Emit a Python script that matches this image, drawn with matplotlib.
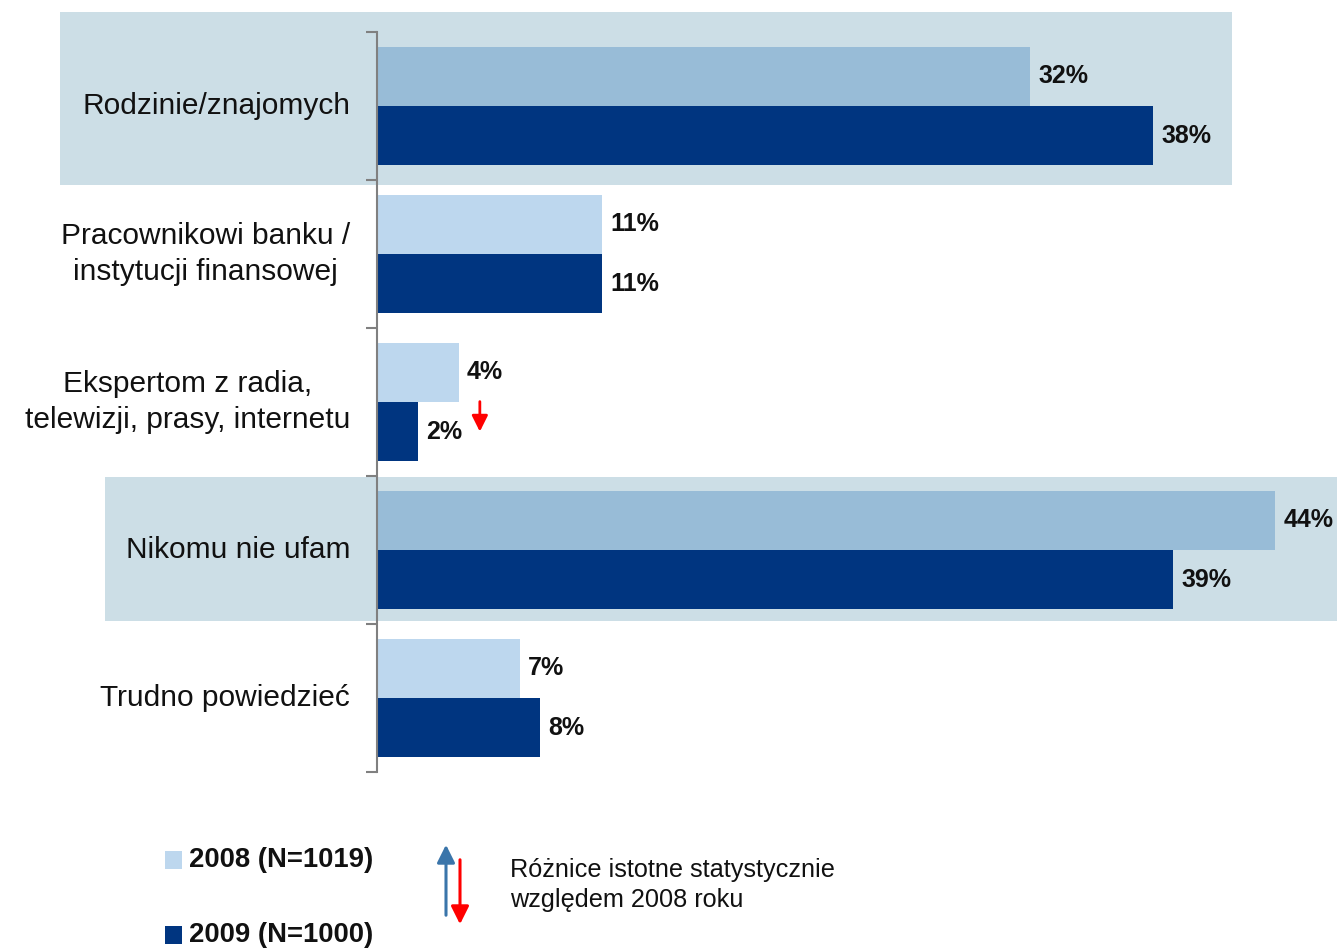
import matplotlib
matplotlib.use("Agg")
import matplotlib.pyplot as plt
import matplotlib.transforms as mtransforms
from matplotlib.patches import Rectangle, FancyArrowPatch
import numpy as np

# data
categories = ["Rodzinie/znajomych",
              "Pracownikowi banku /\ninstytucji finansowej",
              "Ekspertom z radia,\ntelewizji, prasy, internetu",
              "Nikomu nie ufam",
              "Trudno powiedzieć"]
vals_2008 = [32, 11, 4, 44, 7]
vals_2009 = [38, 11, 2, 39, 8]
highlighted = [0, 3]          # rows with grey-blue background box
sig_down = [2]                # 2009 significantly lower than 2008
legend_labels = ["2008 (N=1019)", "2009 (N=1000)"]
note_text = "Różnice istotne statystycznie\nwzględem 2008 roku"

c2008 = "#BDD7EE"
c2008_hl = "#98BCD7"
c2009 = "#003580"
c_box = "#CCDEE6"

plt.rcParams['font.family'] = ['Liberation Sans', 'DejaVu Sans']

W, H = 1337, 948
fig = plt.figure(figsize=(W / 100, H / 100), dpi=100)
fig.patch.set_facecolor("white")

def fx(px):
    return px / W

def fy(py):
    return 1 - py / H

# axes area: left spine x=377, from y=32 to y=772
ax = fig.add_axes([fx(377), fy(772), fx(1337) - fx(377), fy(32) - fy(772)])
ax.set_facecolor("none")

y = np.arange(len(categories))
bh = 0.4
cols08 = [c2008_hl if i in highlighted else c2008 for i in range(len(categories))]
ax.barh(y - bh / 2, vals_2008, height=bh, color=cols08, zorder=2)
ax.barh(y + bh / 2, vals_2009, height=bh, color=c2009, zorder=2)

ax.set_xlim(0, 960 / 20.42)
ax.set_ylim(len(categories) - 0.5, -0.5)

# value labels
for i in range(len(categories)):
    for v, yy in ((vals_2008[i], y[i] - bh / 2), (vals_2009[i], y[i] + bh / 2)):
        ax.annotate(f"{v}%", xy=(v, yy), xytext=(6, 0), textcoords="offset points",
                    ha="left", va="center", fontsize=18, fontweight="bold",
                    color="#111111", zorder=3)

# category labels
lab_tr = mtransforms.blended_transform_factory(ax.transAxes, ax.transData)
for i, c in enumerate(categories):
    ax.text(-0.028, y[i], c, transform=lab_tr, ha="right", va="center",
            multialignment="center", fontsize=21.5, color="#111111", linespacing=1.35)

# significance arrows next to bars
for i in sig_down:
    tr = mtransforms.offset_copy(ax.transData, fig=fig, x=62, y=0, units="dots")
    ax.annotate("", xy=(vals_2009[i], y[i] + bh / 2), xycoords=tr,
                xytext=(0, 30), textcoords="offset pixels",
                arrowprops=dict(arrowstyle="-|>", color="red", lw=2,
                                mutation_scale=24, shrinkA=0, shrinkB=0))

# axis styling
for s in ["top", "right", "bottom"]:
    ax.spines[s].set_visible(False)
ax.spines["left"].set_color("#808080")
ax.spines["left"].set_linewidth(1.5)
ax.set_xticks([])
ax.set_yticks(np.arange(-0.5, len(categories), 1.0))
ax.set_yticklabels([])
ax.tick_params(axis="y", direction="out", length=8, width=1.5, color="#808080")

# highlight boxes behind rows
boxes = {0: (60, 12, 1232, 185), 3: (105, 477, 1337, 621)}
for i in highlighted:
    x0, y0, x1, y1 = boxes[i]
    fig.add_artist(Rectangle((fx(x0), fy(y1)), fx(x1) - fx(x0), fy(y0) - fy(y1),
                             transform=fig.transFigure, facecolor=c_box,
                             edgecolor="none", zorder=-1))

# legend
for (ly, lab, col) in ((860, legend_labels[0], c2008), (935, legend_labels[1], c2009)):
    fig.add_artist(Rectangle((fx(165), fy(ly + 9)), fx(17), 18 / H,
                             transform=fig.transFigure, facecolor=col, edgecolor="none"))
    fig.text(fx(189), fy(ly), lab, ha="left", va="center", fontsize=19.8,
             fontweight="bold", color="#111111")

fig.add_artist(FancyArrowPatch(
    (fx(446), fy(918)), (fx(446), fy(842)), transform=fig.transFigure,
    arrowstyle="-|>", mutation_scale=27, color="#3A75AA", lw=2.2))
fig.add_artist(FancyArrowPatch(
    (fx(460), fy(857)), (fx(460), fy(927)), transform=fig.transFigure,
    arrowstyle="-|>", mutation_scale=27, color="red", lw=2.2))
fig.text(fx(510), fy(885), note_text, ha="left", va="center", fontsize=18.2,
         color="#111111", linespacing=1.3)

fig.savefig("out.png", dpi=100)
